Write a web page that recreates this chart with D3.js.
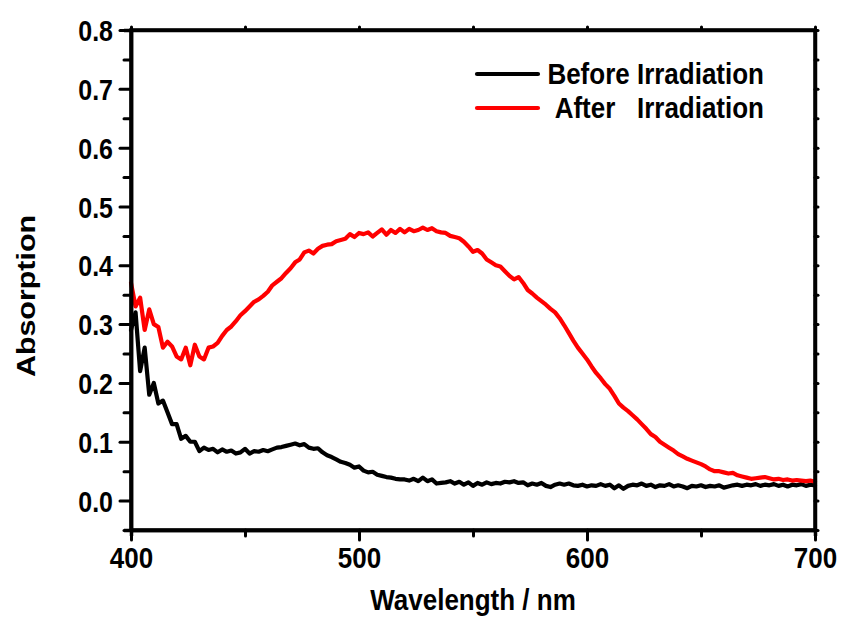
<!DOCTYPE html>
<html>
<head>
<meta charset="utf-8">
<script src="https://cdn.jsdelivr.net/npm/d3@7"></script>
<style>
  html, body { margin: 0; padding: 0; background: #fff; }
  svg { display: block; }
  text { font-family: "Liberation Sans", Arial, sans-serif; font-weight: bold; fill: #000; }
</style>
</head>
<body>
<svg id="chart" width="841" height="622"></svg>
<script>
// ---------------- data ----------------
const wavelengths = d3.range(400, 701, 2); // nm grid, 151 points

const beforeIrradiation = [
  0.290, 0.320, 0.220, 0.260, 0.180,   // 400-408
  0.200, 0.165, 0.170, 0.150, 0.130,   // 410-418
  0.130, 0.105, 0.110, 0.100, 0.100,   // 420-428
  0.084, 0.090, 0.086, 0.088, 0.082,   // 430-438
  0.087, 0.083, 0.085, 0.080, 0.082,   // 440-448
  0.088, 0.080, 0.084, 0.083, 0.086,   // 450-458
  0.084, 0.087, 0.090, 0.091, 0.093,   // 460-468
  0.095, 0.097, 0.094, 0.096, 0.090,   // 470-478
  0.088, 0.089, 0.082, 0.077, 0.074,   // 480-488
  0.070, 0.066, 0.064, 0.061, 0.056,   // 490-498
  0.058, 0.051, 0.048, 0.049, 0.044,   // 500-508
  0.042, 0.040, 0.039, 0.037, 0.036,   // 510-518
  0.036, 0.034, 0.037, 0.033, 0.039,   // 520-528
  0.033, 0.036, 0.029, 0.030, 0.031,   // 530-538
  0.033, 0.029, 0.032, 0.027, 0.031,   // 540-548
  0.025, 0.030, 0.027, 0.031, 0.028,   // 550-558
  0.030, 0.029, 0.032, 0.031, 0.033,   // 560-568
  0.030, 0.031, 0.026, 0.029, 0.027,   // 570-578
  0.030, 0.025, 0.023, 0.027, 0.029,   // 580-588
  0.027, 0.029, 0.026, 0.025, 0.027,   // 590-598
  0.024, 0.026, 0.025, 0.028, 0.025,   // 600-608
  0.027, 0.021, 0.026, 0.020, 0.025,   // 610-618
  0.027, 0.026, 0.029, 0.025, 0.027,   // 620-628
  0.023, 0.026, 0.025, 0.028, 0.024,   // 630-638
  0.026, 0.024, 0.021, 0.025, 0.024,   // 640-648
  0.026, 0.023, 0.025, 0.024, 0.026,   // 650-658
  0.022, 0.024, 0.026, 0.027, 0.025,   // 660-668
  0.027, 0.026, 0.028, 0.025, 0.027,   // 670-678
  0.026, 0.028, 0.025, 0.027, 0.024,   // 680-688
  0.027, 0.026, 0.028, 0.025, 0.027,   // 690-698
  0.026                                // 700
];

const afterIrradiation = [
  0.370, 0.330, 0.345, 0.290, 0.325,   // 400-408
  0.300, 0.295, 0.260, 0.270, 0.262,   // 410-418
  0.245, 0.240, 0.260, 0.230, 0.265,   // 420-428
  0.245, 0.240, 0.260, 0.262, 0.268,   // 430-438
  0.280, 0.290, 0.296, 0.305, 0.315,   // 440-448
  0.322, 0.330, 0.338, 0.342, 0.348,   // 450-458
  0.355, 0.366, 0.372, 0.378, 0.387,   // 460-468
  0.395, 0.405, 0.410, 0.422, 0.425,   // 470-478
  0.420, 0.428, 0.433, 0.435, 0.436,   // 480-488
  0.441, 0.443, 0.445, 0.453, 0.448,   // 490-498
  0.455, 0.453, 0.456, 0.449, 0.455,   // 500-508
  0.461, 0.452, 0.460, 0.455, 0.462,   // 510-518
  0.456, 0.462, 0.458, 0.460, 0.464,   // 520-528
  0.460, 0.463, 0.458, 0.456, 0.455,   // 530-538
  0.450, 0.448, 0.446, 0.440, 0.432,   // 540-548
  0.423, 0.426, 0.420, 0.410, 0.405,   // 550-558
  0.400, 0.398, 0.390, 0.382, 0.376,   // 560-568
  0.380, 0.370, 0.358, 0.352, 0.345,   // 570-578
  0.339, 0.333, 0.326, 0.320, 0.310,   // 580-588
  0.298, 0.285, 0.272, 0.260, 0.250,   // 590-598
  0.240, 0.228, 0.217, 0.208, 0.198,   // 600-608
  0.190, 0.178, 0.165, 0.158, 0.152,   // 610-618
  0.145, 0.138, 0.130, 0.122, 0.113,   // 620-628
  0.108, 0.100, 0.095, 0.090, 0.085,   // 630-638
  0.079, 0.075, 0.071, 0.068, 0.065,   // 640-648
  0.062, 0.058, 0.053, 0.050, 0.050,   // 650-658
  0.048, 0.046, 0.047, 0.043, 0.041,   // 660-668
  0.039, 0.037, 0.038, 0.039, 0.040,   // 670-678
  0.038, 0.036, 0.037, 0.035, 0.036,   // 680-688
  0.034, 0.035, 0.034, 0.033, 0.034,   // 690-698
  0.032                                // 700
];

const xMajorTicks = [400, 500, 600, 700];
const xMinorTicks = [450, 550, 650];
const yMajorTicks = [0.0, 0.1, 0.2, 0.3, 0.4, 0.5, 0.6, 0.7, 0.8];
const yMinorTicks = [-0.05, 0.05, 0.15, 0.25, 0.35, 0.45, 0.55, 0.65, 0.75];

const seriesNames = ["Before Irradiation", "After\u00a0\u00a0\u00a0Irradiation"];
const seriesColors = ["#000000", "#ff0000"];
const xTitle = "Wavelength / nm";
const yTitle = "Absorption";

// ---------------- layout ----------------
const svg = d3.select("#chart");
const plot = { left: 131, right: 815, top: 30, bottom: 530 };
const stretch = 1.17; // vertical stretch of the text glyphs

const x = d3.scaleLinear().domain([400, 700]).range([plot.left, plot.right]);
const y = d3.scaleLinear().domain([-0.05, 0.8]).range([plot.bottom, plot.top]);

const axisW = 3.5;

// data lines
const line = d3.line()
  .x((d, i) => x(wavelengths[i]))
  .y(d => y(d))
  .curve(d3.curveLinear);

const gLines = svg.append("g");
[beforeIrradiation, afterIrradiation].forEach((s, k) => {
  gLines.append("path")
    .datum(s)
    .attr("d", line)
    .attr("fill", "none")
    .attr("stroke", seriesColors[k])
    .attr("stroke-width", 4.2)
    .attr("stroke-linejoin", "round")
    .attr("stroke-linecap", "round");
});

// axes
function styleAxis(g) {
  g.selectAll("path.domain").attr("stroke", "#000").attr("stroke-width", axisW);
  g.selectAll(".tick line").attr("stroke", "#000").attr("stroke-width", 3).attr("stroke-linecap", "round");
}

// bottom
const gxMinor = svg.append("g").attr("transform", `translate(0,${plot.bottom})`)
  .call(d3.axisBottom(x).tickValues(xMinorTicks).tickSize(6).tickFormat(""));
styleAxis(gxMinor);
const gx = svg.append("g").attr("transform", `translate(0,${plot.bottom})`)
  .call(d3.axisBottom(x).tickValues(xMajorTicks).tickSize(10).tickSizeOuter(0).tickFormat(d3.format("d")));
styleAxis(gx);
gx.selectAll(".tick text")
  .attr("y", 0).attr("dy", null)
  .attr("font-size", 26)
  .attr("transform", `translate(0,38) scale(1,${stretch})`);

// left
const gyMinor = svg.append("g").attr("transform", `translate(${plot.left},0)`)
  .call(d3.axisLeft(y).tickValues(yMinorTicks).tickSize(7).tickFormat(""));
styleAxis(gyMinor);
const gy = svg.append("g").attr("transform", `translate(${plot.left},0)`)
  .call(d3.axisLeft(y).tickValues(yMajorTicks).tickSize(11).tickSizeOuter(0).tickFormat(d3.format(".1f")));
styleAxis(gy);
gy.selectAll(".tick text")
  .attr("x", 0).attr("dy", "0.36em")
  .attr("font-size", 25)
  .attr("transform", `translate(-18,0) scale(1,${stretch})`);

// top
const gTop = svg.append("g").attr("transform", `translate(0,${plot.top})`)
  .call(d3.axisTop(x).tickValues(xMajorTicks.concat(xMinorTicks)).tickSize(3).tickSizeOuter(0).tickFormat(""));
styleAxis(gTop);
// right
const gRight = svg.append("g").attr("transform", `translate(${plot.right},0)`)
  .call(d3.axisRight(y).tickValues(yMajorTicks.concat(yMinorTicks)).tickSize(3).tickSizeOuter(0).tickFormat(""));
styleAxis(gRight);

// frame corners (square joins)
svg.append("rect")
  .attr("x", plot.left).attr("y", plot.top)
  .attr("width", plot.right - plot.left).attr("height", plot.bottom - plot.top)
  .attr("fill", "none").attr("stroke", "#000").attr("stroke-width", axisW);

// axis titles
svg.append("text")
  .attr("text-anchor", "middle")
  .attr("font-size", 26)
  .attr("transform", `translate(${(plot.left + plot.right) / 2},610) scale(1,${stretch})`)
  .text(xTitle);

svg.append("text")
  .attr("text-anchor", "middle")
  .attr("font-size", 26)
  .attr("transform", `translate(35,296) scale(1,${stretch}) rotate(-90)`)
  .text(yTitle);

// legend
const legend = svg.append("g");
seriesNames.forEach((name, k) => {
  const ly = 74 + k * 34;
  legend.append("line")
    .attr("x1", 477).attr("x2", 538)
    .attr("y1", ly).attr("y2", ly)
    .attr("stroke", seriesColors[k]).attr("stroke-width", 4.2)
    .attr("stroke-linecap", "round");
  legend.append("text")
    .attr("font-size", 26)
    .attr("text-anchor", "end")
    .attr("transform", `translate(764,${ly + 10}) scale(1,${stretch})`)
    .text(name);
});
</script>
</body>
</html>
